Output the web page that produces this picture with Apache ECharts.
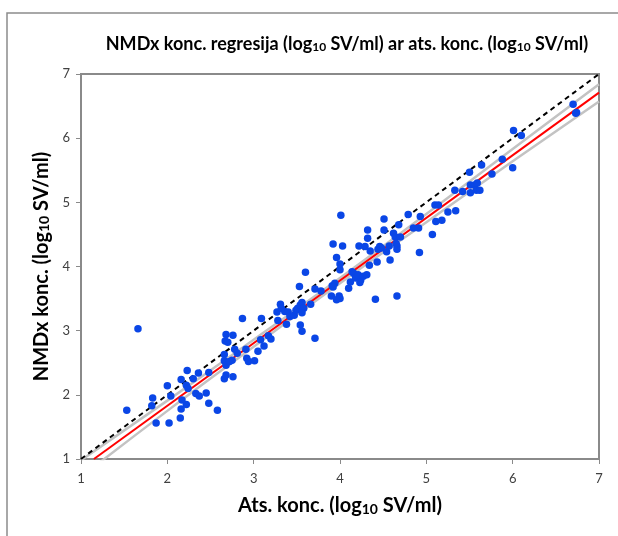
<!DOCTYPE html>
<html><head><meta charset="utf-8">
<script src="https://cdn.jsdelivr.net/npm/echarts@6/dist/echarts.min.js"></script>
<style>html,body{margin:0;padding:0;background:#fff}#c{width:618px;height:536px}</style>
</head><body><div id="c"></div>
<script>
// Observed points: actual (x) vs NMDx (y), log10 SV/ml
const pointsX = [1.66,1.53,1.83,1.82,1.87,2.02,2.00,2.04,2.15,2.16,2.17,2.22,2.16,2.23,2.22,2.24,2.30,2.36,2.33,2.37,2.45,2.48,2.58,2.48,2.66,2.68,2.76,2.66,2.68,2.75,2.66,2.78,2.68,2.67,2.76,2.81,2.70,2.72,2.87,2.92,2.94,3.01,2.91,3.05,3.08,3.12,3.09,3.17,3.20,3.28,3.27,3.31,3.32,3.38,3.36,3.40,3.42,3.47,3.49,3.51,3.54,3.56,3.58,3.56,3.53,3.54,3.56,3.60,3.66,3.71,3.71,3.78,3.91,3.94,3.90,3.99,4.00,3.96,4.00,4.01,3.92,4.03,4.00,3.92,3.96,4.10,4.12,4.14,4.16,4.18,4.21,4.24,4.23,4.27,4.31,4.22,4.29,4.32,4.32,4.35,4.34,4.43,4.41,4.44,4.46,4.48,4.51,4.51,4.54,4.57,4.58,4.62,4.66,4.66,4.68,4.66,4.79,4.85,4.91,4.92,4.64,4.70,4.65,4.93,5.07,5.18,5.11,5.10,5.14,5.25,5.34,5.33,5.42,5.51,5.51,5.56,5.59,5.58,5.62,5.50,5.64,5.76,5.88,6.00,6.01,6.10,6.70,6.73,6.74];
const pointsY = [3.03,1.76,1.95,1.83,1.56,1.56,2.14,1.98,1.64,1.78,1.92,1.85,2.24,2.38,2.15,2.10,2.25,2.34,2.02,1.98,2.03,1.87,1.76,2.35,2.25,2.31,2.28,2.53,2.46,2.54,2.63,2.71,2.94,2.84,2.93,2.65,2.82,2.52,3.19,2.57,2.52,2.53,2.71,2.68,2.86,2.76,3.19,2.92,2.87,3.16,3.29,3.41,3.35,3.10,3.30,3.29,3.22,3.24,3.32,3.35,3.40,3.44,3.35,3.28,3.69,3.09,2.99,3.91,3.41,3.65,2.88,3.62,3.70,3.74,3.54,3.54,3.50,4.14,3.95,4.80,4.35,4.32,4.04,3.68,3.48,3.66,3.76,3.92,3.89,3.82,3.87,3.79,3.75,3.85,3.87,4.32,4.31,4.44,4.57,4.24,4.02,4.07,3.49,4.27,4.31,4.29,4.74,4.57,4.23,4.32,4.10,4.52,4.32,4.27,4.65,3.54,4.81,4.60,4.60,4.22,4.46,4.46,4.36,4.78,4.50,4.72,4.70,4.96,4.96,4.85,4.87,5.19,5.17,5.15,5.27,5.27,5.30,5.19,5.19,5.47,5.58,5.44,5.67,5.54,6.12,6.04,6.53,6.39,6.40];
// Identity line
const identX = [1, 7];
const identY = [1, 7];
// Regression line
const regX = [1.15, 7];
const regY = [1.00, 6.71];
// Confidence band lines
const ciX = [1, 2, 3, 4, 5, 6, 7];
const ciUpper = [0.98, 1.91, 2.86, 3.82, 4.82, 5.83, 6.84];
const ciLower = [0.72, 1.75, 2.75, 3.74, 4.69, 5.64, 6.57];
// Axis ticks
const axisMin = 1, axisMax = 7, axisStep = 1;

const title = 'NMDx konc. regresija (log₁₀ SV/ml) ar ats. konc. (log₁₀ SV/ml)';
const xName = 'Ats. konc. (log₁₀ SV/ml)';
const yName = 'NMDx konc. (log₁₀ SV/ml)';

function richify(s) {
  return s.split('₁₀').map(p => '{b|' + p + '}').join('{s|10}');
}
const FONT = 'Lato';
function rich(size, subSize) {
  return {
    b: {fontFamily: FONT, fontWeight: 'bold', fontSize: size, color: '#000', verticalAlign: 'bottom', lineHeight: size + 4},
    s: {fontFamily: FONT, fontWeight: 'bold', fontSize: subSize, color: '#000', verticalAlign: 'bottom', lineHeight: subSize + 1}
  };
}
const pair = (xs, ys) => xs.map((x, i) => [x, ys[i]]);

const chart = echarts.init(document.getElementById('c'), null, {renderer: 'canvas'});
const axisCommon = {
  type: 'value', min: axisMin, max: axisMax, interval: axisStep,
  splitLine: {show: false},
  axisLine: {show: true, lineStyle: {color: '#8a8a8a', width: 2}},
  axisTick: {show: true, length: 5, lineStyle: {color: '#8a8a8a', width: 1}},
  axisLabel: {color: '#404040', fontFamily: FONT, fontSize: 13}
};
chart.setOption({
  animation: false,
  backgroundColor: '#fff',
  graphic: [
    {type: 'polyline', shape: {points: [[7, 540], [7, 13], [620, 13]]}, style: {stroke: '#8c8c8c', lineWidth: 1.5, fill: null}}
  ],
  title: {
    text: richify(title), left: 342, top: 26, textAlign: 'center',
    textStyle: {rich: rich(18, 12)}
  },
  grid: {left: 81, right: 19, top: 74, bottom: 77, show: true, borderColor: '#8a8a8a', borderWidth: 2},
  xAxis: Object.assign({}, axisCommon, {
    name: richify(xName), nameLocation: 'middle', nameGap: 33,
    nameTextStyle: {rich: rich(20, 14)},
    axisLabel: Object.assign({}, axisCommon.axisLabel, {margin: 13})
  }),
  yAxis: Object.assign({}, axisCommon, {
    name: richify(yName), nameLocation: 'middle', nameGap: 28, nameRotate: 90,
    nameTextStyle: {rich: rich(20, 14)},
    axisLabel: Object.assign({}, axisCommon.axisLabel, {margin: 11})
  }),
  series: [
    {type: 'line', data: pair(ciX, ciUpper), smooth: true, symbol: 'none', clip: true, lineStyle: {color: '#c3c3c3', width: 2.5}, z: 2},
    {type: 'line', data: pair(ciX, ciLower), smooth: true, symbol: 'none', clip: true, lineStyle: {color: '#c3c3c3', width: 2.5}, z: 2},
    {type: 'line', data: pair(identX, identY), symbol: 'none', clip: true, lineStyle: {color: '#000', width: 2, type: [5, 4]}, z: 3},
    {type: 'line', data: pair(regX, regY), symbol: 'none', clip: true, lineStyle: {color: '#ff0000', width: 2}, z: 4},
    {type: 'scatter', data: pair(pointsX, pointsY), symbol: 'circle', symbolSize: 7.5, itemStyle: {color: '#0a46e6', opacity: 1}, z: 5}
  ]
});
</script></body></html>
